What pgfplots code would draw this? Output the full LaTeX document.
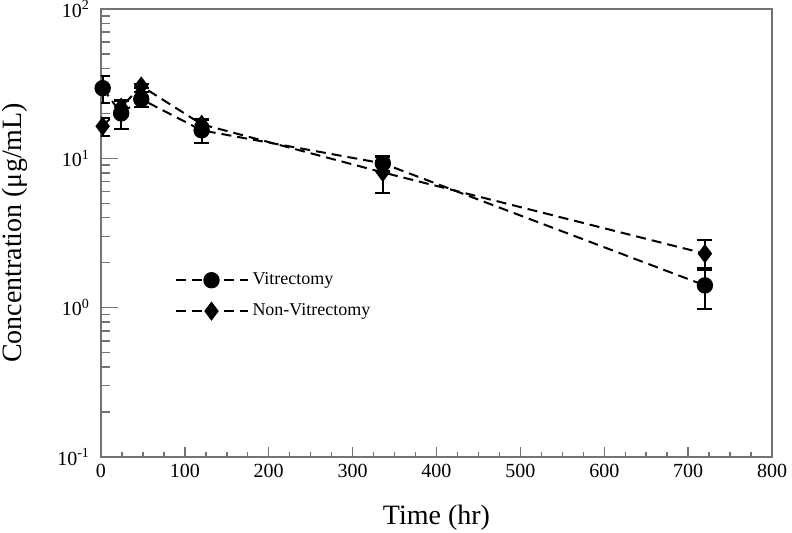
\documentclass[border=0pt]{standalone}
\usepackage{fontspec}
\setmainfont{Liberation Serif}
\usepackage{pgfplots}
\pgfplotsset{compat=1.18}

\begin{document}
\begin{tikzpicture}
	\begin{axis}[
		scale only axis, width=335.5pt, height=224pt,
		xmin=0, xmax=800, ymode=log, ymin=0.1, ymax=100,
		xtick={0,100,...,800}, minor x tick num=3,
		ytick={0.1,1,10,100},
		yticklabels={10\textsuperscript{-1},10\textsuperscript{0},10\textsuperscript{1},10\textsuperscript{2}},
		minor ytick={0.2,0.3,0.4,0.5,0.6,0.7,0.8,0.9,2,3,4,5,6,7,8,9,20,30,40,50,60,70,80,90},
		tick align=inside, xtick pos=bottom, ytick pos=left,
		axis line style={black!55, line width=0.7pt},
		tick style={black!55, line width=0.7pt},
		x tick style={/pgfplots/major tick length=5pt, /pgfplots/minor tick length=2.5pt},
		y tick style={/pgfplots/major tick length=8.5pt, /pgfplots/minor tick length=4.5pt},
		/pgf/number format/assume math mode=true,
		ticklabel style={font=\fontsize{10}{12}\selectfont},
		yticklabel style={xshift=-2pt},
		xlabel={Time (hr)}, ylabel={Concentration (μg/mL)},
		label style={font=\fontsize{14}{17}\selectfont},
		xlabel style={yshift=-7pt},
		ylabel shift=8pt,
		legend cell align=left,
		legend style={draw=none, fill=none, at={(0.1,0.43)}, anchor=north west,
			font=\fontsize{9}{11}\selectfont, row sep=4pt},
		legend image code/.code={
			\draw[mark repeat=2, mark phase=2, #1] plot coordinates {(0pt,0pt) (18pt,0pt) (36pt,0pt)};
		},
	]
	% Vitrectomy
	\addplot[black, line width=1pt, dash pattern=on 5pt off 3pt,
		mark=*, mark size=3.6pt, mark options={solid},
		error bars/.cd, y dir=both, y explicit,
		error bar style={solid, line width=1pt},
		error mark options={solid, rotate=90, mark size=3.75pt, line width=1pt}]
	coordinates {
		(  2, 29.5) +- (0, 6.0)
		( 24, 20.0) +- (0, 4.2)
		( 48, 24.9) +- (0, 2.8)
		(120, 15.4) +- (0, 2.8)
		(336,  9.25) +- (0, 1.05)
		(720,  1.41) +- (0, 0.43)
	};
	\addlegendentry{Vitrectomy}
	% Non-Vitrectomy
	\addplot[black, line width=1pt, dash pattern=on 5pt off 3pt,
		mark=diamond*, mark size=4pt, mark options={solid},
		error bars/.cd, y dir=both, y explicit,
		error bar style={solid, line width=1pt},
		error mark options={solid, rotate=90, mark size=3.75pt, line width=1pt}]
	coordinates {
		(  2, 16.4) +- (0, 2.3)
		( 24, 22.0) +- (0, 2.6)
		( 48, 30.5) +- (0, 1.0)
		(120, 16.9) +- (0, 1.4)
		(336,  8.05) +- (0, 2.2)
		(720,  2.30) +- (0, 0.52)
	};
	\addlegendentry{Non-Vitrectomy}
	\end{axis}
	\pgfresetboundingbox
	\path[use as bounding box] (current axis.south west) ++(-50.5pt,-37.5pt) rectangle ++(396pt,266pt);
\end{tikzpicture}
\end{document}
